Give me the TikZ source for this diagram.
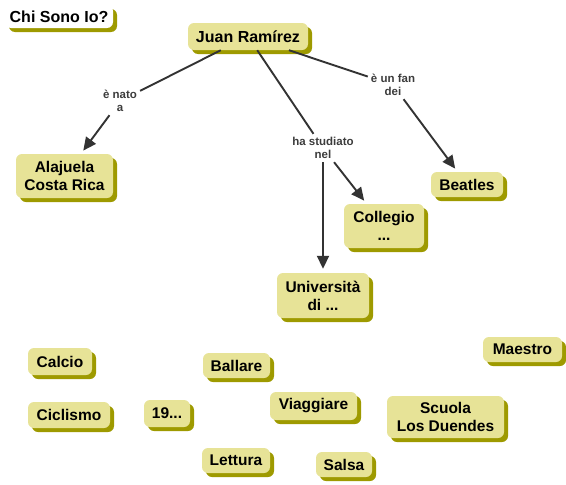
\documentclass[tikz,border=0pt]{standalone}
\usepackage{fontspec}
\setmainfont{Liberation Sans}
\usetikzlibrary{shadows,arrows.meta}
\definecolor{boxfill}{RGB}{231,227,151}
\definecolor{shadowcol}{RGB}{158,154,0}
\definecolor{linecol}{RGB}{51,51,51}
\definecolor{labelcol}{RGB}{60,60,60}
\tikzset{
  cnode/.style={rectangle, rounded corners=6pt, fill=boxfill, align=center,
    font=\fontsize{15.5}{18}\selectfont\bfseries, text=black, inner sep=0pt,
    drop shadow={shadow xshift=4pt, shadow yshift=-4pt, fill=shadowcol, opacity=1}},
  lbl/.style={align=center, font=\fontsize{11.5}{13.5}\selectfont\bfseries,
    text=labelcol, inner sep=3pt},
  conn/.style={draw=linecol, line width=1.9pt},
  arr/.style={conn, -{Triangle[length=13pt,width=12pt]}, shorten >=4pt}
}
\begin{document}
\begin{tikzpicture}[x=1pt,y=-1pt]
\useasboundingbox (0,0) rectangle (566,485);
% top
\node[cnode, fill=white, minimum width=108pt, minimum height=23pt,
  font=\fontsize{16}{18}\selectfont\bfseries] (chi) at (59,16.5) {Chi Sono Io?};
\node[cnode, minimum width=120pt, minimum height=27pt,
  font=\fontsize{16}{18}\selectfont\bfseries] (juan) at (248,36.5) {Juan Ramírez};
% labels
\node[lbl] (nato) at (120,101) {è nato\\a};
\node[lbl] (stud) at (323,148) {ha studiato\\nel};
\node[lbl] (fan) at (393,85) {è un fan\\dei};
% concept nodes
\node[cnode, minimum width=97pt, minimum height=44pt] (alaj) at (64.5,176) {Alajuela\\Costa Rica};
\node[cnode, minimum width=72pt, minimum height=25pt] (beat) at (467,184.5) {Beatles};
\node[cnode, minimum width=80pt, minimum height=44pt] (coll) at (384,226) {Collegio\\...};
\node[cnode, minimum width=92pt, minimum height=45pt] (univ) at (323,295.5) {Università\\di ...};
\node[cnode, minimum width=79pt, minimum height=25pt] (maes) at (522.5,349.5) {Maestro};
\node[cnode, minimum width=64pt, minimum height=27pt] (calc) at (60,361.5) {Calcio};
\node[cnode, minimum width=67pt, minimum height=25pt] (ball) at (236.5,365.5) {Ballare};
\node[cnode, minimum width=82pt, minimum height=26pt] (cicl) at (69,415) {Ciclismo};
\node[cnode, minimum width=46pt, minimum height=27pt] (nnn) at (167,413.5) {19...};
\node[cnode, minimum width=87pt, minimum height=28pt] (viag) at (313.5,406) {Viaggiare};
\node[cnode, minimum width=117pt, minimum height=42pt] (scuo) at (445.5,417) {Scuola\\Los Duendes};
\node[cnode, minimum width=68pt, minimum height=25pt] (lett) at (236,460.5) {Lettura};
\node[cnode, minimum width=56pt, minimum height=25pt] (sals) at (344,464.5) {Salsa};
% connectors
\draw[conn] (juan) -- (nato);
\draw[conn] (juan) -- (stud);
\draw[conn] (juan) -- (fan);
\draw[arr] (nato) -- (alaj);
\draw[arr] (fan) -- (beat);
\draw[arr] (stud.south) -- (univ.north);
\draw[arr] (stud) -- (coll);
\end{tikzpicture}
\end{document}
